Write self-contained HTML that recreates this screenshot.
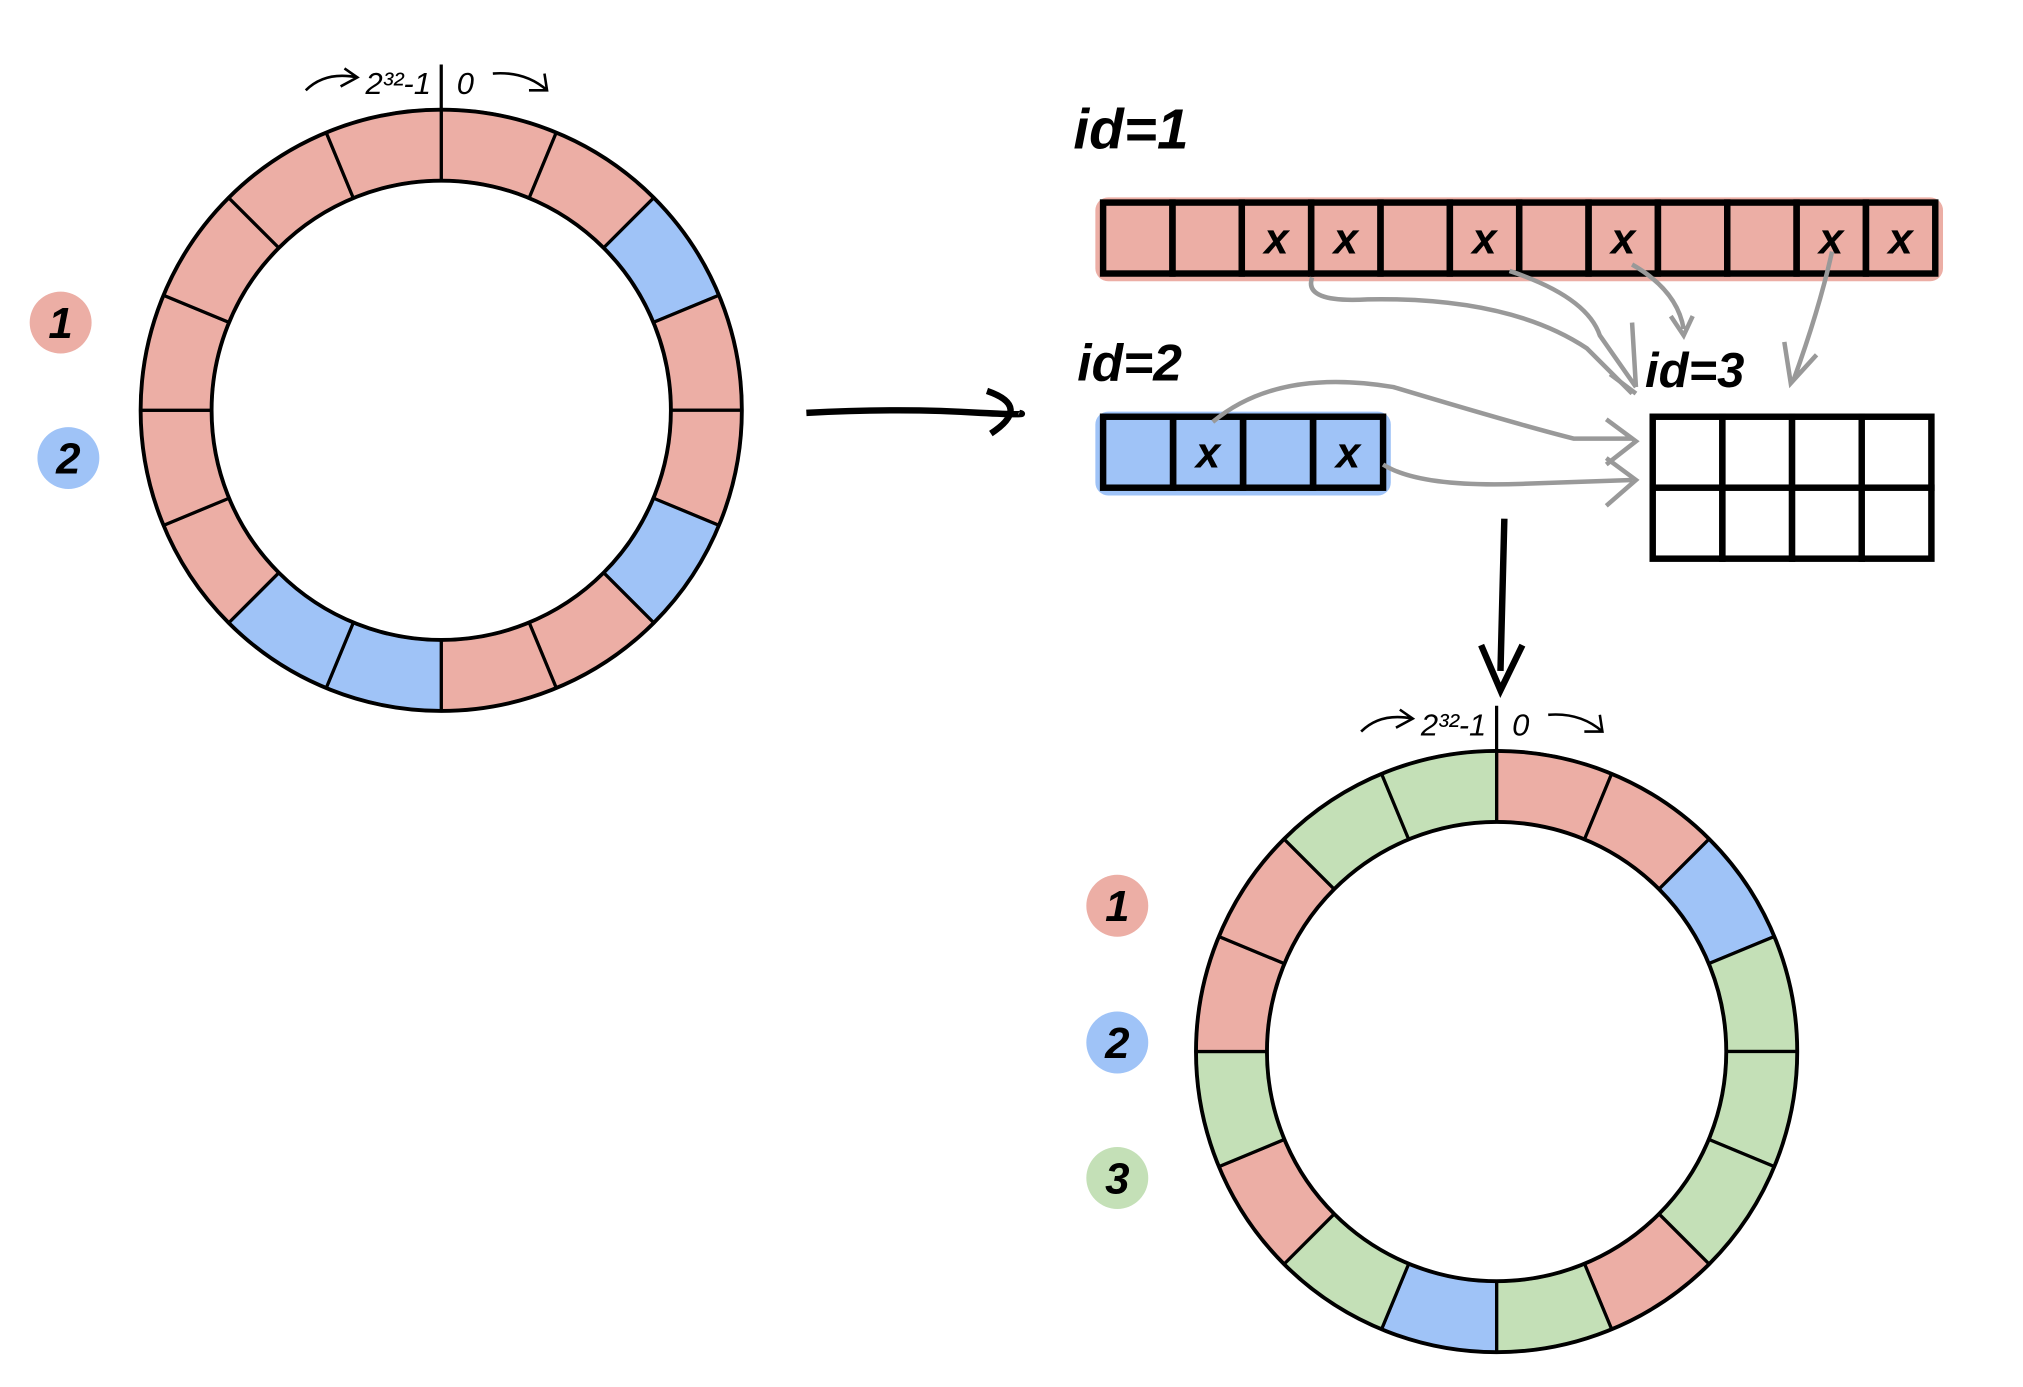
<!DOCTYPE html>
<html><head><meta charset="utf-8"><style>
html,body{margin:0;padding:0;background:#fff;}
svg{display:block;}
text{font-family:"Liberation Sans",sans-serif;font-weight:bold;font-style:italic;}
</style></head><body>
<svg id="s" width="2023" height="1387" viewBox="0 0 1568 1075" preserveAspectRatio="none">
<g id="g"></g>
</svg>
<script>
const ring1Owners=[1,1,2,1,1,2,1,1,2,2,1,1,1,1,1,1];
const ring2Owners=[1,1,2,3,3,3,1,3,2,3,1,3,1,1,3,3];
const bar1Marks=[0,0,1,1,0,1,0,1,0,0,1,1];
const bar2Marks=[0,1,0,1];
const colors={1:"#ecaea5",2:"#9fc3f7",3:"#c4e0b7"};
const NS="http://www.w3.org/2000/svg";
const g=document.getElementById('g');
function el(t,a,p){const e=document.createElementNS(NS,t);for(const k in a)e.setAttribute(k,a[k]);(p||g).appendChild(e);return e;}
function pt(cx,cy,r,a){const t=(a-90)*Math.PI/180;return [cx+r*Math.cos(t),cy+r*Math.sin(t)];}
function ring(cx,cy,R,r,owners,name){
  const grp=el('g',{});
  
  
  const n=owners.length,step=360/n;
  owners.forEach((o,i)=>{
    const a0=i*step,a1=(i+1)*step;
    const p1=pt(cx,cy,R,a0),p2=pt(cx,cy,R,a1),p3=pt(cx,cy,r,a1),p4=pt(cx,cy,r,a0);
    const s=el('path',{d:`M${p1}A${R},${R} 0 0 1 ${p2}L${p3}A${r},${r} 0 0 0 ${p4}Z`,fill:colors[o],stroke:'#000','stroke-width':2.5},grp);
    
    
  });
  el('circle',{cx,cy,r:R,fill:'none',stroke:'#000','stroke-width':3},grp);
  el('circle',{cx,cy,r,fill:'none',stroke:'#000','stroke-width':3},grp);
  el('line',{x1:cx,y1:cy-R-35,x2:cx,y2:cy-R,stroke:'#000','stroke-width':2.5},grp);
  const t1=el('text',{x:cx-8,y:cy-R-12,'font-size':24,'text-anchor':'end',style:'font-weight:normal'},grp);t1.textContent='2³²-1';
  const t2=el('text',{x:cx+12,y:cy-R-12,'font-size':24,style:'font-weight:normal'},grp);t2.textContent='0';
  el('path',{d:`M${cx-105},${cy-R-15} Q${cx-90},${cy-R-30} ${cx-65},${cy-R-25} M${cx-75},${cy-R-32} L${cx-65},${cy-R-25} L${cx-78},${cy-R-18}`,fill:'none',stroke:'#000','stroke-width':2},grp);
  el('path',{d:`M${cx+40},${cy-R-28} Q${cx+65},${cy-R-30} ${cx+82},${cy-R-15} M${cx+80},${cy-R-28} L${cx+82},${cy-R-15} L${cx+68},${cy-R-15}`,fill:'none',stroke:'#000','stroke-width':2},grp);
}
ring(342,318,233,178,ring1Owners,'ring-before');
ring(1160,815,233,178,ring2Owners,'ring-after');
function legend(x,y,c,label){
  const b=el('circle',{cx:x,cy:y,r:24,fill:c});
  
  
  const t=el('text',{x:x,y:y+12,'font-size':34,'text-anchor':'middle'});t.textContent=label;
  
  
}
legend(47,250,colors[1],'1');legend(53,355,colors[2],'2');
legend(866,702,colors[1],'1');legend(866,808,colors[2],'2');legend(866,913,colors[3],'3');
function bar(x,y,w,h,marks,c,name){
  const grp=el('g',{});
  
  
  el('rect',{x:x-6,y:y-4,width:w+12,height:h+10,fill:c,rx:10},grp);
  const cw=w/marks.length;
  marks.forEach((m,i)=>{
    el('rect',{x:x+i*cw,y,width:cw,height:h,fill:'none',stroke:'#000','stroke-width':5},grp);
    if(m){const t=el('text',{x:x+i*cw+cw/2,y:y+h/2+12,'font-size':34,'text-anchor':'middle'},grp);t.textContent='x';}
  });
}
bar(855,157,645,55,bar1Marks,colors[1],'id1-bar');
bar(855,323,217,55,bar2Marks,colors[2],'id2-bar');
const gg=el('g',{});
for(let r=0;r<2;r++)for(let c=0;c<4;c++)el('rect',{x:1281+c*54,y:323+r*55,width:54,height:55,fill:'#fff',stroke:'#000','stroke-width':5},gg);
[['id=1',832,115,44],['id=2',835,295,40],['id=3',1275,300,38]].forEach(([s,x,y,f])=>{const t=el('text',{x,y,'font-size':f});t.textContent=s;});
el('path',{d:'M625,320 Q700,316 760,320 Q800,322 790,320 M765,303 Q800,315 768,336',fill:'none',stroke:'#000','stroke-width':5});
el('path',{d:'M1166,402 L1163,520 M1148,500 L1163,535 L1180,500',fill:'none',stroke:'#000','stroke-width':5});
const gr={fill:'none',stroke:'#999','stroke-width':3.5};
el('path',{d:'M1017,215 Q1010,235 1060,232 Q1170,230 1230,270 L1265,305',...gr});
el('path',{d:'M1170,210 Q1230,230 1240,260 L1268,300 M1265,250 L1268,300 M1248,290 L1268,305',...gr});
el('path',{d:'M1265,205 Q1300,225 1305,255 M1295,245 L1305,260 L1312,245',...gr});
el('path',{d:'M1420,195 Q1410,240 1390,295 M1383,265 L1388,297 L1408,275',...gr});
el('path',{d:'M940,327 Q990,285 1080,300 Q1180,330 1220,340 L1265,340 M1245,325 L1268,342 L1245,360',...gr});
el('path',{d:'M1072,360 Q1100,378 1180,375 L1265,372 M1245,355 L1268,372 L1245,392',...gr});
</script>
</body></html>
